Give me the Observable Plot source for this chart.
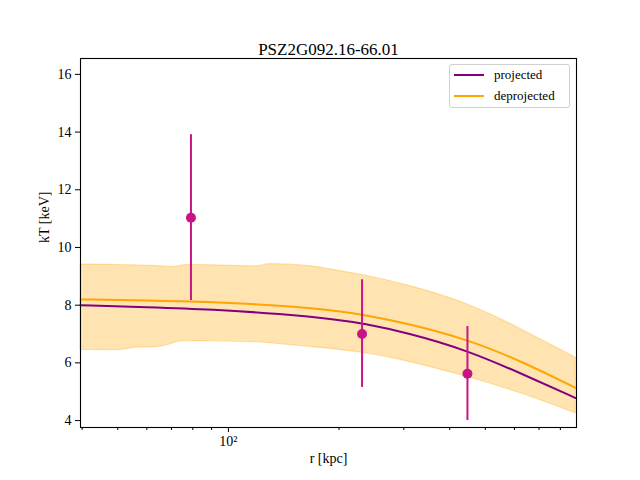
<!DOCTYPE html>
<html>
<head>
<meta charset="utf-8">
<script src="https://cdn.jsdelivr.net/npm/d3@7"></script>
<script src="https://cdn.jsdelivr.net/npm/@observablehq/plot@0.6"></script>
<style>
  body { margin: 0; background: #fff; }
  #wrap { position: relative; width: 640px; height: 480px; font-family: "Liberation Serif", "DejaVu Serif", serif; }
  #legend { position: absolute; left: 449px; top: 64px; width: 119px; height: 42px; border: 1px solid #d0d0d0; border-radius: 3px; background: rgba(255,255,255,0.8); font-size: 13px; color: #000; }
  .li { position: absolute; left: 4px; height: 16px; display: flex; align-items: center; }
  .sw { width: 30px; height: 2px; margin-right: 10px; }
</style>
</head>
<body>
<div id="wrap">
  <div id="chart"></div>
  <div id="legend">
    <div class="li" style="top:2px"><div class="sw" style="background:#800080"></div>projected</div>
    <div class="li" style="top:23px"><div class="sw" style="background:#ffa500"></div>deprojected</div>
  </div>
</div>
<script>
const title = "PSZ2G092.16-66.01";

// measured points
const pointR   = [79.1, 231, 447];
const pointKT  = [11.03, 7.00, 5.62];
const pointLo  = [8.16, 5.15, 4.00];
const pointHi  = [13.91, 8.88, 7.26];

// projected model
const projR  = [39.6, 59.9, 91.0, 138.3, 201.5, 231.3, 306.3, 446.3, 636.6, 880.5];
const projKT = [8.00, 7.93, 7.85, 7.70, 7.49, 7.37, 7.05, 6.44, 5.59, 4.78];

// deprojected model
const deprR  = [39.6, 59.9, 91.0, 138.3, 201.5, 231.3, 306.3, 446.3, 636.6, 880.5];
const deprKT = [8.20, 8.17, 8.11, 7.99, 7.79, 7.67, 7.37, 6.82, 6.02, 5.13];

// deprojected uncertainty band
const bandR  = [39.6, 51.6, 54, 56, 65, 70, 72.6, 74.6, 89, 122, 125, 128, 167, 178, 231, 299, 446, 630, 881];
const bandLo = [6.45, 6.43, 6.50, 6.54, 6.53, 6.65, 6.74, 6.75, 6.76, 6.71, 6.70, 6.69, 6.55, 6.52, 6.37, 6.10, 5.53, 4.95, 4.25];
const bandHi = [9.41, 9.39, 9.38, 9.38, 9.35, 9.33, 9.32, 9.40, 9.39, 9.32, 9.40, 9.44, 9.37, 9.30, 9.06, 8.74, 8.10, 7.15, 6.18];

const xMajor = [100];
const xMinor = [40, 50, 60, 70, 80, 90, 200, 300, 400, 500, 600, 700, 800];
const yTicks = [4, 6, 8, 10, 12, 14, 16];

const points = pointR.map((r, i) => ({r, kT: pointKT[i], lo: pointLo[i], hi: pointHi[i]}));
const proj = projR.map((r, i) => ({r, kT: projKT[i]}));
const depr = deprR.map((r, i) => ({r, kT: deprKT[i]}));
const band = bandR.map((r, i) => ({r, lo: bandLo[i], hi: bandHi[i]}));

const font = "Liberation Serif, DejaVu Serif, serif";

const chart = Plot.plot({
  width: 640,
  height: 480,
  marginLeft: 80,
  marginRight: 64,
  marginTop: 58,
  marginBottom: 53,
  style: {fontFamily: font, fontSize: "13px", color: "#000", background: "#fff"},
  x: {type: "log", domain: [39.6, 885]},
  y: {domain: [3.76, 16.55]},
  marks: [
    Plot.areaY(band, {x: "r", y1: "lo", y2: "hi", fill: "#ffa500", fillOpacity: 0.3, stroke: "#ffa500", strokeOpacity: 0.3, strokeWidth: 1.2, curve: "basis"}),
    Plot.line(proj, {x: "r", y: "kT", stroke: "#800080", strokeWidth: 2, curve: "basis"}),
    Plot.line(depr, {x: "r", y: "kT", stroke: "#ffa500", strokeWidth: 2, curve: "basis"}),
    Plot.ruleX(points, {x: "r", y1: "lo", y2: "hi", stroke: "#c71585", strokeWidth: 2}),
    Plot.dot(points, {x: "r", y: "kT", r: 5, fill: "#c71585", stroke: "none"}),
    Plot.frame({stroke: "#000", strokeWidth: 1.1}),
    Plot.axisX(xMajor, {tickSize: 5, tickPadding: 4, tickFormat: () => "10²", fontSize: 14, label: null}),
    Plot.axisX(xMinor, {tickSize: 3, tickFormat: () => "", label: null}),
    Plot.axisY(yTicks, {tickSize: 5, tickPadding: 4, fontSize: 14, label: null}),
    Plot.text(["r [kpc]"], {frameAnchor: "bottom", dy: 35, fontSize: 14}),
    Plot.text(["kT [keV]"], {frameAnchor: "left", dx: -36, rotate: -90, fontSize: 14}),
    Plot.text([title], {frameAnchor: "top", dy: -16, fontSize: 17})
  ]
});
document.getElementById("chart").appendChild(chart);
</script>
</body>
</html>
